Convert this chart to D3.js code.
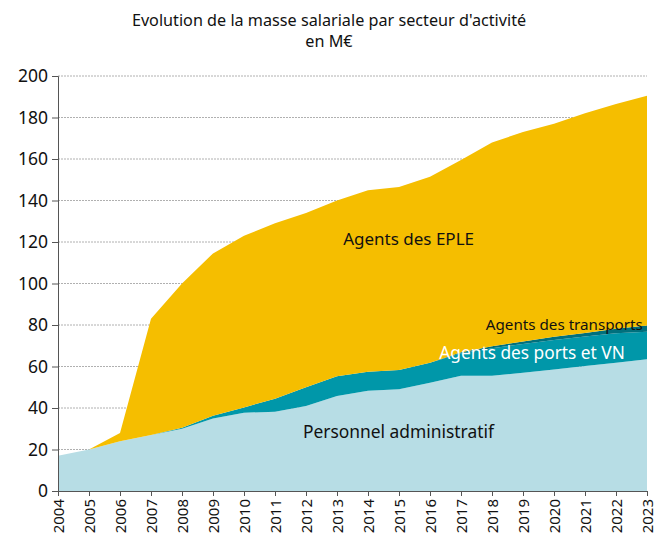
<!DOCTYPE html>
<html><head><meta charset="utf-8">
<script src="https://cdn.jsdelivr.net/npm/d3@7"></script>
<style>body{margin:0;background:#fff;}svg{display:block;font-family:"Noto Sans",sans-serif;}</style>
</head><body><svg id="c" width="656" height="542"></svg>
<script>
const years = [2004,2005,2006,2007,2008,2009,2010,2011,2012,2013,2014,2015,2016,2017,2018,2019,2020,2021,2022,2023];
const admin =     [17,20,24,27,30,35,37.7,38.2,41,45.8,48.3,49,52.2,55.5,55.5,57,58.6,60.2,61.8,63.5];
const ports =     [0,0,0,0,0.5,1.3,2.6,6.3,9,9.5,9.2,9.3,9.6,10.9,13.3,13.8,14.2,14.2,14.2,13.3];
const transports= [0,0,0,0,0,0,0,0,0,0,0,0,0,0.5,1,1.2,1.5,1.8,2.2,3];
const totals =    [17,20,28,83,100,114.5,123,129,134,140,145,146.5,151.5,159.5,168,173,177,182,186.5,190.5];
const yTicks = [0,20,40,60,80,100,120,140,160,180,200];
const seriesNames = ["Personnel administratif","Agents des ports et VN","Agents des transports","Agents des EPLE"];
const colors = ["#B7DDE5","#0097A9","#00707D","#F5BE00"];

const eple = totals.map((t,i)=>t-admin[i]-ports[i]-transports[i]);
const rows = years.map((y,i)=>({year:y, a:admin[i], p:ports[i], t:transports[i], e:eple[i]}));
const keys = ["a","p","t","e"];
const stack = d3.stack().keys(keys)(rows);

const svg = d3.select("#c");
const m = {l:58, r:9, t:76, b:51};
const W = 656, H = 542;
const x = d3.scaleLinear().domain([2004,2023]).range([m.l, W-m.r]);
const y = d3.scaleLinear().domain([0,200]).range([H-m.b, m.t]);

// gridlines
svg.append("g").selectAll("line").data(yTicks.filter(d=>d>0)).join("line")
  .attr("x1",x(2004)).attr("x2",x(2023)).attr("y1",d=>y(d)).attr("y2",d=>y(d))
  .attr("stroke","#b0b0b0").attr("stroke-width",1).attr("stroke-dasharray","2,1");

const area = d3.area().x(d=>x(d.data.year)).y0(d=>y(d[0])).y1(d=>y(d[1]));
svg.append("g").selectAll("path").data(stack).join("path")
  .attr("d",area).attr("fill",(d,i)=>colors[i]);

// axes
const yAxis = d3.axisLeft(y).tickValues(yTicks).tickSize(6).tickPadding(4);
const gy = svg.append("g").attr("transform",`translate(${m.l},0)`).call(yAxis);
gy.select(".domain").attr("stroke","#555");
gy.selectAll(".tick line").attr("stroke","#555");
gy.selectAll("text").attr("font-size",17.5).attr("fill","#111").attr("font-family","Noto Sans");

const xAxis = d3.axisBottom(x).tickValues(years).tickFormat(d3.format("d")).tickSize(5).tickPadding(3);
const gx = svg.append("g").attr("transform",`translate(0,${H-m.b})`).call(xAxis);
gx.select(".domain").attr("stroke","#555");
gx.selectAll(".tick line").attr("stroke","#555");
gx.selectAll("text").attr("font-size",15).attr("fill","#111").attr("font-family","Noto Sans")
  .attr("transform","rotate(-90)").attr("text-anchor","end").attr("dy","0.35em").attr("x",-8).attr("y",0);

// title
svg.append("text").attr("x",329).attr("y",26).attr("text-anchor","middle").attr("font-size",16.2).attr("fill","#111")
  .text("Evolution de la masse salariale par secteur d'activité");
svg.append("text").attr("x",329).attr("y",47).attr("text-anchor","middle").attr("font-size",16.2).attr("fill","#111")
  .text("en M€");

// labels
const labels = [
  {t:seriesNames[3], yr:2013.2, v:118.6, c:"#111", s:17, anchor:"start"},
  {t:seriesNames[2], yr:2017.8, v:77.4, c:"#111", s:15.2, anchor:"start"},
  {t:seriesNames[1], yr:2016.3, v:63.4, c:"#fff", s:17.3, anchor:"start"},
  {t:seriesNames[0], yr:2011.9, v:25.5, c:"#111", s:17.4, anchor:"start"}
];
svg.append("g").selectAll("text").data(labels).join("text")
  .attr("x",d=>x(d.yr)).attr("y",d=>y(d.v)).attr("fill",d=>d.c).attr("font-size",d=>d.s)
  .attr("text-anchor",d=>d.anchor).text(d=>d.t);
</script></body></html>
